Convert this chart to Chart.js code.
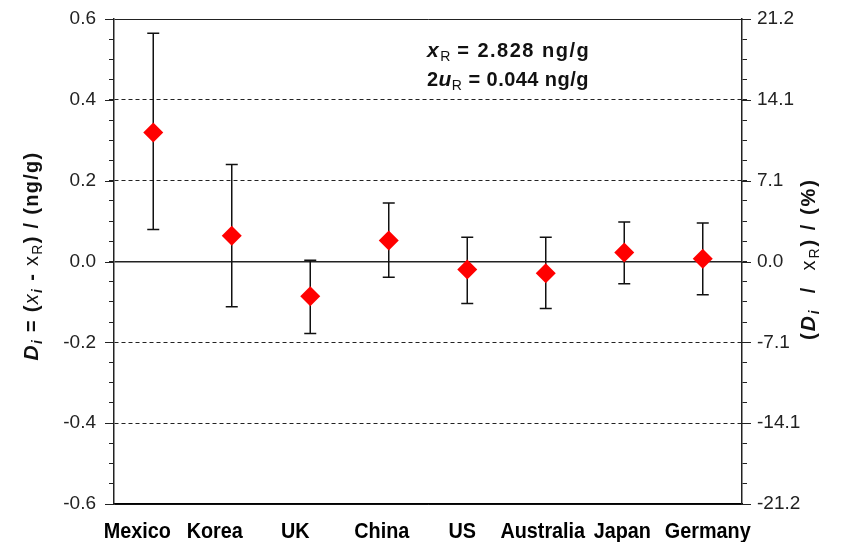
<!DOCTYPE html>
<html>
<head>
<meta charset="utf-8">
<script src="https://cdn.jsdelivr.net/npm/chart.js@4.4.1/dist/chart.umd.min.js"></script>
<style>
  html, body { margin: 0; padding: 0; background: #fff; }
</style>
</head>
<body>
<canvas id="graph_ID" width="842" height="542"></canvas>
<script>
var labels = ['Mexico', 'Korea', 'UK', 'China', 'US', 'Australia', 'Japan', 'Germany'];
var di     = [0.319, 0.064, -0.086, 0.052, -0.020, -0.029, 0.022, 0.007];
var diHigh = [0.565, 0.240, 0.003, 0.145, 0.060, 0.060, 0.098, 0.095];
var diLow  = [0.079, -0.112, -0.178, -0.039, -0.104, -0.116, -0.055, -0.082];
var leftTicks  = ['-0.6', '-0.4', '-0.2', '0.0', '0.2', '0.4', '0.6'];
var rightTicks = ['-21.2', '-14.1', '-7.1', '0.0', '7.1', '14.1', '21.2'];
var xR = '2.828';
var u2R = '0.044';

var FONT = "'Liberation Sans', Arial, sans-serif";
// the country names in the original sit a little off their points
var labelNudge = [-16, -17, -15, -7, -5, -3, -2, 5];

// index of the major tick (every 0.2) or -1 for minor ones
function majorIndex(v) {
  if (v === undefined || v === null) return -1;
  var k = Math.round((v + 0.6) / 0.2);
  return Math.abs(-0.6 + 0.2 * k - v) < 1e-6 ? k : -1;
}

function gridDash(c) {
  var v = c.tick ? c.tick.value : null;
  if (v === null) return [];
  if (Math.abs(v) < 1e-6 || Math.abs(Math.abs(v) - 0.6) < 1e-6) return [];
  return [4, 3];
}

var errorBars = {
  id: 'errorBars',
  beforeDatasetsDraw: function (chart) {
    var ctx = chart.ctx, xs = chart.scales.x, ys = chart.scales.y;
    ctx.save();
    ctx.strokeStyle = '#111';
    ctx.lineWidth = 1.5;
    labels.forEach(function (l, i) {
      var x = xs.getPixelForValue(i);
      var yt = ys.getPixelForValue(diHigh[i]);
      var yb = ys.getPixelForValue(diLow[i]);
      ctx.beginPath();
      ctx.moveTo(x, yt); ctx.lineTo(x, yb);
      ctx.moveTo(x - 6, yt); ctx.lineTo(x + 6, yt);
      ctx.moveTo(x - 6, yb); ctx.lineTo(x + 6, yb);
      ctx.stroke();
    });
    ctx.restore();
  }
};

// draws a line of mixed text (italic / subscript parts)
function richText(ctx, parts, x, y, align) {
  function font(p) {
    return (p.i ? 'italic ' : '') + (p.b === false ? '' : 'bold ') + (p.s || 17) + 'px ' + FONT;
  }
  var w = 0;
  parts.forEach(function (p) { ctx.font = font(p); w += ctx.measureText(p.t).width; });
  var cx = align === 'center' ? x - w / 2 : x;
  parts.forEach(function (p) {
    ctx.font = font(p);
    ctx.fillText(p.t, cx, y + (p.dy || 0));
    cx += ctx.measureText(p.t).width;
  });
}

var textsPlugin = {
  id: 'texts',
  afterDraw: function (chart) {
    var ctx = chart.ctx, xs = chart.scales.x, ys = chart.scales.y, a = chart.chartArea;
    ctx.save();

    // longer marks for the major ticks on both y axes
    ctx.strokeStyle = '#222';
    ctx.lineWidth = 1;
    ys.ticks.forEach(function (t) {
      if (majorIndex(t.value) < 0) return;
      var y = Math.round(ys.getPixelForValue(t.value)) + 0.5;
      ctx.beginPath();
      ctx.moveTo(a.left - 9, y); ctx.lineTo(a.left, y);
      ctx.moveTo(a.right, y); ctx.lineTo(a.right + 9, y);
      ctx.stroke();
    });

    ctx.fillStyle = '#111';
    ctx.textBaseline = 'alphabetic';
    ctx.textAlign = 'left';

    // country names, condensed bold
    ctx.font = 'bold 22px ' + FONT;
    labels.forEach(function (l, i) {
      var x = xs.getPixelForValue(i) + labelNudge[i];
      ctx.save();
      ctx.translate(x, 538);
      ctx.scale(0.9, 1);
      ctx.textAlign = 'center';
      ctx.fillStyle = '#000';
      ctx.fillText(l, 0, 0);
      ctx.restore();
    });

    ctx.letterSpacing = '1.5px';
    richText(ctx, [
      { t: 'x', i: true, s: 21 }, { t: 'R ', b: false, s: 14, dy: 4 },
      { t: '= ' + xR + ' ng/g', s: 20 }
    ], 427, 57);
    ctx.letterSpacing = '0.45px';
    richText(ctx, [
      { t: '2', s: 20 }, { t: 'u', i: true, s: 21 }, { t: 'R', b: false, s: 14, dy: 4 },
      { t: ' = ' + u2R + ' ng/g', s: 20 }
    ], 427, 86);

    ctx.letterSpacing = '1.3px';
    ctx.save();
    ctx.translate(38, 256);
    ctx.rotate(-Math.PI / 2);
    richText(ctx, [
      { t: 'D', i: true, s: 21 }, { t: 'i', i: true, s: 14, dy: 4 },
      { t: ' = (', s: 20 }, { t: 'x', i: true, s: 20, b: false }, { t: 'i', i: true, s: 14, dy: 4 },
      { t: ' - ', s: 20 }, { t: 'x', s: 20, b: false }, { t: 'R', b: false, s: 14, dy: 4 },
      { t: ') / (ng/g)', s: 20 }
    ], 0, 0, 'center');
    ctx.restore();

    ctx.letterSpacing = '2px';
    ctx.save();
    ctx.translate(815, 259);
    ctx.rotate(-Math.PI / 2);
    richText(ctx, [
      { t: '(', s: 20 }, { t: 'D', i: true, s: 21 }, { t: 'i', i: true, s: 14, dy: 4 },
      { t: '  /  ', s: 20 }, { t: 'x', s: 20, b: false }, { t: 'R', b: false, s: 14, dy: 4 },
      { t: ') / (%)', s: 20 }
    ], 0, 0, 'center');
    ctx.restore();
    ctx.restore();
  }
};

function fitY(width) {
  return function (s) {
    s.width = width;
    s.paddingTop = 0;
    s.paddingBottom = 0;
  };
}

var ctx = document.getElementById('graph_ID').getContext('2d');
var graphique = new Chart(ctx, {
  type: 'line',
  data: {
    labels: labels,
    datasets: [{
      data: di,
      showLine: false,
      pointStyle: 'rectRot',
      pointRadius: 10,
      pointHoverRadius: 10,
      pointBorderWidth: 0,
      backgroundColor: '#ff0000',
      borderColor: '#ff0000'
    }]
  },
  options: {
    responsive: false,
    animation: false,
    devicePixelRatio: 1,
    layout: { padding: { top: 19, left: 0, right: 0, bottom: 0 } },
    plugins: { legend: { display: false }, tooltip: { enabled: false } },
    scales: {
      x: {
        offset: true,
        grid: { display: false },
        border: { color: '#000', width: 1.5 },
        ticks: { display: false },
        afterFit: function (s) { s.height = 38; }
      },
      y: {
        position: 'left',
        min: -0.6, max: 0.6,
        grid: {
          color: function (c) { return majorIndex(c.tick && c.tick.value) >= 0 ? '#222' : 'rgba(0,0,0,0)'; },
          lineWidth: function (c) { return c.tick && Math.abs(c.tick.value) < 1e-6 ? 1.5 : 1; },
          tickColor: '#222',
          tickLength: 5
        },
        border: { color: '#222', width: 1.5, dash: gridDash },
        ticks: {
          stepSize: 0.05, autoSkip: false, maxTicksLimit: 60,
          color: '#222', padding: 13,
          font: { family: FONT, size: 19 },
          callback: function (v) { var k = majorIndex(v); return k >= 0 ? leftTicks[k] : ''; }
        },
        afterFit: fitY(114)
      },
      y2: {
        position: 'right',
        min: -0.6, max: 0.6,
        grid: { drawOnChartArea: false, color: 'rgba(0,0,0,0)', tickColor: '#222', tickLength: 5 },
        border: { color: '#222', width: 1.5 },
        ticks: {
          stepSize: 0.05, autoSkip: false, maxTicksLimit: 60,
          color: '#222', padding: 10,
          font: { family: FONT, size: 19 },
          callback: function (v) { var k = majorIndex(v); return k >= 0 ? rightTicks[k] : ''; }
        },
        afterFit: fitY(100)
      }
    }
  },
  plugins: [errorBars, textsPlugin]
});
</script>
</body>
</html>
